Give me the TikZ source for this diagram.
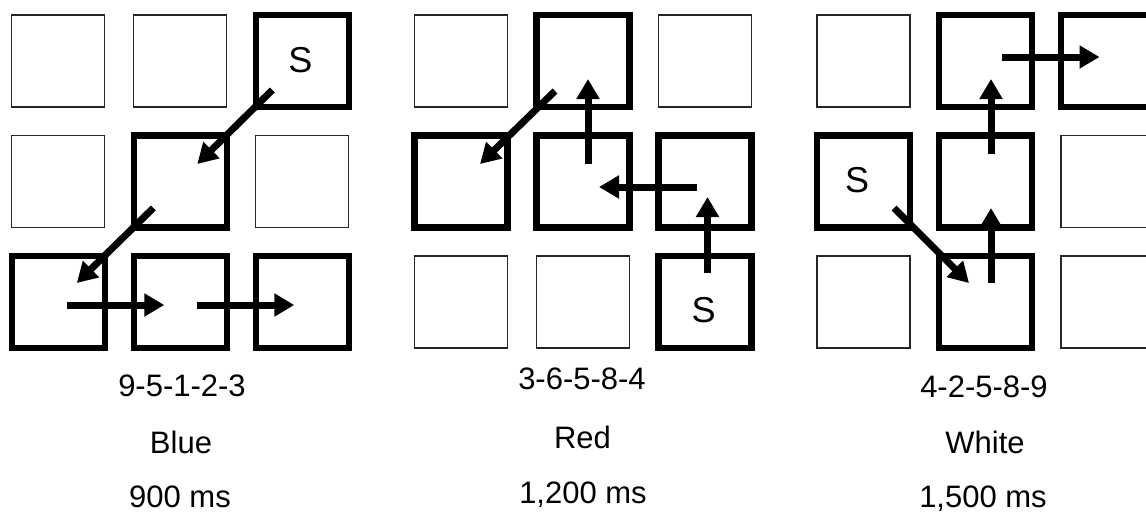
\documentclass[tikz,border=0pt]{standalone}
\usepackage{fontspec}
\setmainfont{Liberation Sans}
\usetikzlibrary{arrows.meta}
\begin{document}
\begin{tikzpicture}[x=1pt,y=-1pt,
  cell/.style={draw=black!85, line width=1.3pt, minimum width=93pt,
    minimum height=92pt, inner sep=0pt},
  pathcell/.style={cell, draw=black, line width=6.3pt},
  move/.style={line width=7pt, -{Triangle[length=20pt,width=22pt]}},
  startmark/.style={font=\fontsize{36}{36}\selectfont, inner sep=0pt},
  caption/.style={font=\fontsize{31}{31}\selectfont, anchor=base, inner sep=0pt}]
\useasboundingbox (0,0) rectangle (1146,514);
\clip (0,0) rectangle (1146,514);

% three 3x3 keypads, cells numbered like a numeric keypad (7 8 9 / 4 5 6 / 1 2 3)
\foreach \g/\gx/\ks/\st in {
    a/58.3/{4,6,7,8}/cell,   a/58.3/{1,2,3,5,9}/pathcell,
    b/461/{1,2,7,9}/cell,    b/461/{3,4,5,6,8}/pathcell,
    c/863.5/{1,3,6,7}/cell,  c/863.5/{2,4,5,8,9}/pathcell}{
  \foreach \k in \ks {
    \pgfmathtruncatemacro{\col}{mod(\k-1,3)}
    \pgfmathtruncatemacro{\row}{2-int((\k-1)/3)}
    \node[\st] (\g\k) at ({\gx+122*\col},{61+120.5*\row}) {};
  }
}

% start marks
\node[startmark] (sa) at ([shift={(-2,-1)}]a9.center) {S};
\node[startmark] (sb) at ([shift={(-1.5,8)}]b3.center) {S};
\node[startmark] (sc) at ([shift={(-6.5,-1.5)}]c4.center) {S};

% sequence 9-5-1-2-3
\draw[move] ([shift={(-30,29)}]a9.center) -- ([shift={(17,-17.5)}]a5.center);
\draw[move] ([shift={(-27,26.5)}]a5.center) -- ([shift={(18.5,-19)}]a1.center);
\draw[move] ([shift={(8.5,3)}]a1.center) -- ([shift={(-16,3)}]a2.center);
\draw[move] ([shift={(17,3)}]a2.center) -- ([shift={(-8,3)}]a3.center);

% sequence 3-6-5-8-4
\draw[move] ([shift={(2.5,-29)}]b3.center) -- ([shift={(2.5,15.5)}]b6.center);
\draw[move] ([shift={(-8.5,5.5)}]b6.center) -- ([shift={(16,5.5)}]b5.center);
\draw[move] ([shift={(5,-17.5)}]b5.center) -- ([shift={(5,18)}]b8.center);
\draw[move] ([shift={(-28,30)}]b8.center) -- ([shift={(19,-17.5)}]b4.center);

% sequence 4-2-5-8-9
\draw[move] ([shift={(30.5,26.5)}]c4.center) -- ([shift={(-16.5,-19)}]c2.center);
\draw[move] ([shift={(5.5,-19)}]c2.center) -- ([shift={(5.5,26.5)}]c5.center);
\draw[move] ([shift={(5.5,-27.5)}]c5.center) -- ([shift={(5.5,18)}]c8.center);
\draw[move] ([shift={(16.5,-4)}]c8.center) -- ([shift={(-8,-4)}]c9.center);

% captions
\node[caption] (seqa)  at (182,396) {9-5-1-2-3};
\node[caption] (cola)  at (181,453) {Blue};
\node[caption] (timea) at (180,507) {900 ms};

\node[caption] (seqb)  at (582,389) {3-6-5-8-4};
\node[caption] (colb)  at (582.5,448) {Red};
\node[caption] (timeb) at (583,503) {1,200 ms};

\node[caption] (seqc)  at (984,397) {4-2-5-8-9};
\node[caption] (colc)  at (985,453) {White};
\node[caption] (timec) at (983,507) {1,500 ms};
\end{tikzpicture}
\end{document}
